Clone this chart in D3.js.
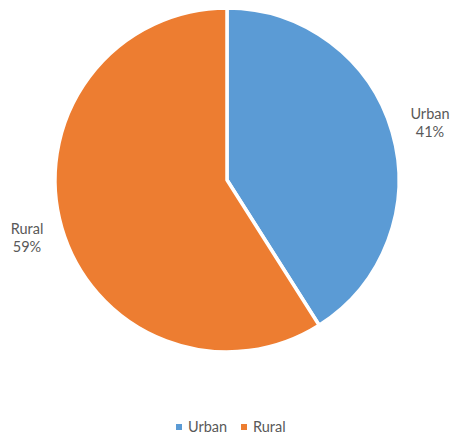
<!DOCTYPE html>
<html>
<head>
<meta charset="utf-8">
<script src="https://cdn.jsdelivr.net/npm/d3@7"></script>
<style>
  html, body { margin: 0; padding: 0; background: #ffffff; }
  svg { display: block; }
  text { font-family: Lato, "Open Sans", sans-serif; fill: #595959; }
</style>
</head>
<body>
<script>
// Share of population by area
const categories = ["Urban", "Rural"];
const shares = [41, 59];
const colors = ["#5B9BD5", "#ED7D31"];

const width = 453, height = 443;
const cx = 227, cy = 180, radius = 172;

const svg = d3.select("body").append("svg")
  .attr("width", width)
  .attr("height", height);

const data = categories.map((c, i) => ({ name: c, value: shares[i], color: colors[i] }));

const pie = d3.pie().value(d => d.value).sort(null);
const arc = d3.arc().innerRadius(0).outerRadius(radius);

const g = svg.append("g").attr("transform", `translate(${cx},${cy})`);

g.selectAll("path")
  .data(pie(data))
  .join("path")
  .attr("d", arc)
  .attr("fill", d => d.data.color)
  .attr("stroke", "#ffffff")
  .attr("stroke-width", 3.5)
  .attr("stroke-linejoin", "round");

// Outside data labels
const labelPos = { Urban: [430, 119], Rural: [27, 234] };
const total = d3.sum(shares);
data.forEach(d => {
  const [x, y] = labelPos[d.name];
  const t = svg.append("text")
    .attr("x", x).attr("y", y)
    .attr("text-anchor", "middle")
    .style("font-size", "14.5px");
  t.append("tspan").attr("x", x).text(d.name);
  t.append("tspan").attr("x", x).attr("dy", 18)
    .text(Math.round(d.value / total * 100) + "%");
});

// Legend
const legendItems = [
  { name: categories[0], color: colors[0], x: 176 },
  { name: categories[1], color: colors[1], x: 241 }
];
const lg = svg.append("g");
legendItems.forEach(it => {
  lg.append("rect")
    .attr("x", it.x).attr("y", 424)
    .attr("width", 6).attr("height", 6)
    .attr("fill", it.color);
  lg.append("text")
    .attr("x", it.x + 12).attr("y", 432)
    .style("font-size", "14.5px")
    .text(it.name);
});
</script>
</body>
</html>
